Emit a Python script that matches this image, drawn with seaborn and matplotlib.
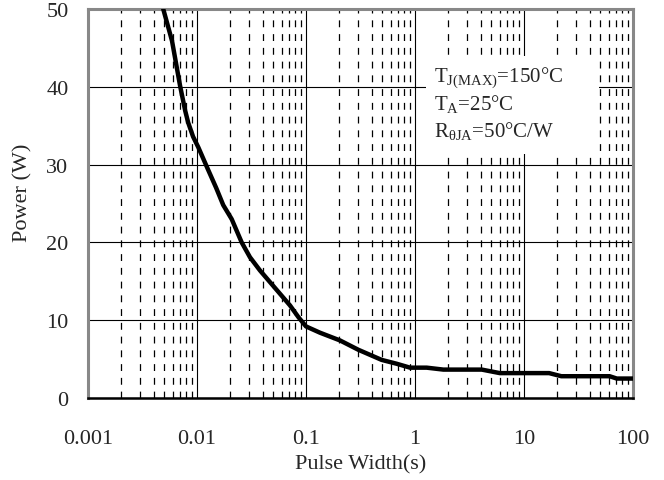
import numpy as np
import pandas as pd
import matplotlib
matplotlib.use("Agg")
import matplotlib.pyplot as plt
from matplotlib.patches import Rectangle
from matplotlib.ticker import LogLocator, FixedLocator, NullFormatter
import seaborn as sns

# curve
pulse_width = [0.0049, 0.0059, 0.0070, 0.0078, 0.0083, 0.0092, 0.0103, 0.0125,
               0.0150, 0.0174, 0.0208, 0.0257, 0.0306, 0.0378, 0.0467, 0.0577,
               0.0713, 0.0851, 0.100, 0.134, 0.205, 0.302, 0.494, 0.68, 0.90,
               1.28, 1.82, 4.1, 6.0, 17, 22, 61, 71, 100]
power = [50, 45.9, 40.1, 36.9, 35.4, 33.6, 32.2, 29.5, 27.0, 24.8, 23.0, 20.0,
         18.1, 16.4, 14.9, 13.4, 11.9, 10.4, 9.2, 8.4, 7.4, 6.2, 4.9, 4.4,
         3.9, 3.9, 3.65, 3.65, 3.2, 3.2, 2.8, 2.8, 2.5, 2.5]

x_ticks = [0.001, 0.01, 0.1, 1, 10, 100]
x_tick_labels = ["0.001", "0.01", "0.1", "1", "10", "100"]
y_ticks = [0, 10, 20, 30, 40, 50]

note_lines = [r"T$_{\mathrm{J(MAX)}}$=150°C",
              r"T$_{\mathrm{A}}$=25°C",
              r"R$_{\mathrm{\theta JA}}$=50°C/W"]

sns.set_style("white")
plt.rcParams["font.family"] = ["Liberation Serif", "DejaVu Serif"]
plt.rcParams["mathtext.fontset"] = "custom"
plt.rcParams["mathtext.rm"] = "Liberation Serif"
plt.rcParams["mathtext.it"] = "Liberation Serif"

df = pd.DataFrame({"t": pulse_width, "p": power})

fig = plt.figure(figsize=(6.64, 4.81), dpi=100)
ax = fig.add_axes([88 / 664, 1 - 399 / 481, (633 - 88) / 664, (399 - 10) / 481])

ax.set_xscale("log")
ax.set_xlim(0.001, 100)
ax.set_ylim(0, 50)

# grid: solid majors, dashed minors on x
ax.xaxis.set_major_locator(FixedLocator(x_ticks))
ax.xaxis.set_minor_locator(LogLocator(base=10, subs=np.arange(2, 10)))
ax.xaxis.set_minor_formatter(NullFormatter())
ax.set_xticks(x_ticks)
ax.set_xticklabels(x_tick_labels)
ax.set_yticks(y_ticks)
ax.grid(which="major", axis="both", color="black", linewidth=0.8, linestyle="-")
ax.grid(which="minor", axis="x", color="black", linewidth=0.9,
        linestyle=(0, (5.5, 5.5)))

sns.lineplot(data=df, x="t", y="p", ax=ax, color="black", linewidth=3.2,
             zorder=5)

# white box behind the note
ax.add_patch(Rectangle((0.62, 0.626), 0.317, 0.252, transform=ax.transAxes,
                       facecolor="white", edgecolor="none", zorder=3))
for i, line in enumerate(note_lines):
    ax.text(0.635, 0.815 - i * 0.071, line, transform=ax.transAxes,
            fontsize=15, va="baseline", ha="left", zorder=6)

for side in ["left", "top", "right"]:
    ax.spines[side].set_color("#888888")
    ax.spines[side].set_linewidth(2.2)
ax.spines["bottom"].set_color("black")
ax.spines["bottom"].set_linewidth(1.8)
ax.set_axisbelow(True)

ax.tick_params(axis="x", which="both", length=0, pad=22, labelsize=16)
ax.tick_params(axis="y", which="major", direction="in", length=6, width=2,
               color="#888888", pad=14, labelsize=16)

ax.set_xlabel("Pulse Width(s)", fontsize=16, labelpad=5)
ax.set_ylabel("Power (W)", fontsize=16)
ax.yaxis.set_label_coords(-0.101, 0.53)

fig.savefig("out.png", dpi=100)
